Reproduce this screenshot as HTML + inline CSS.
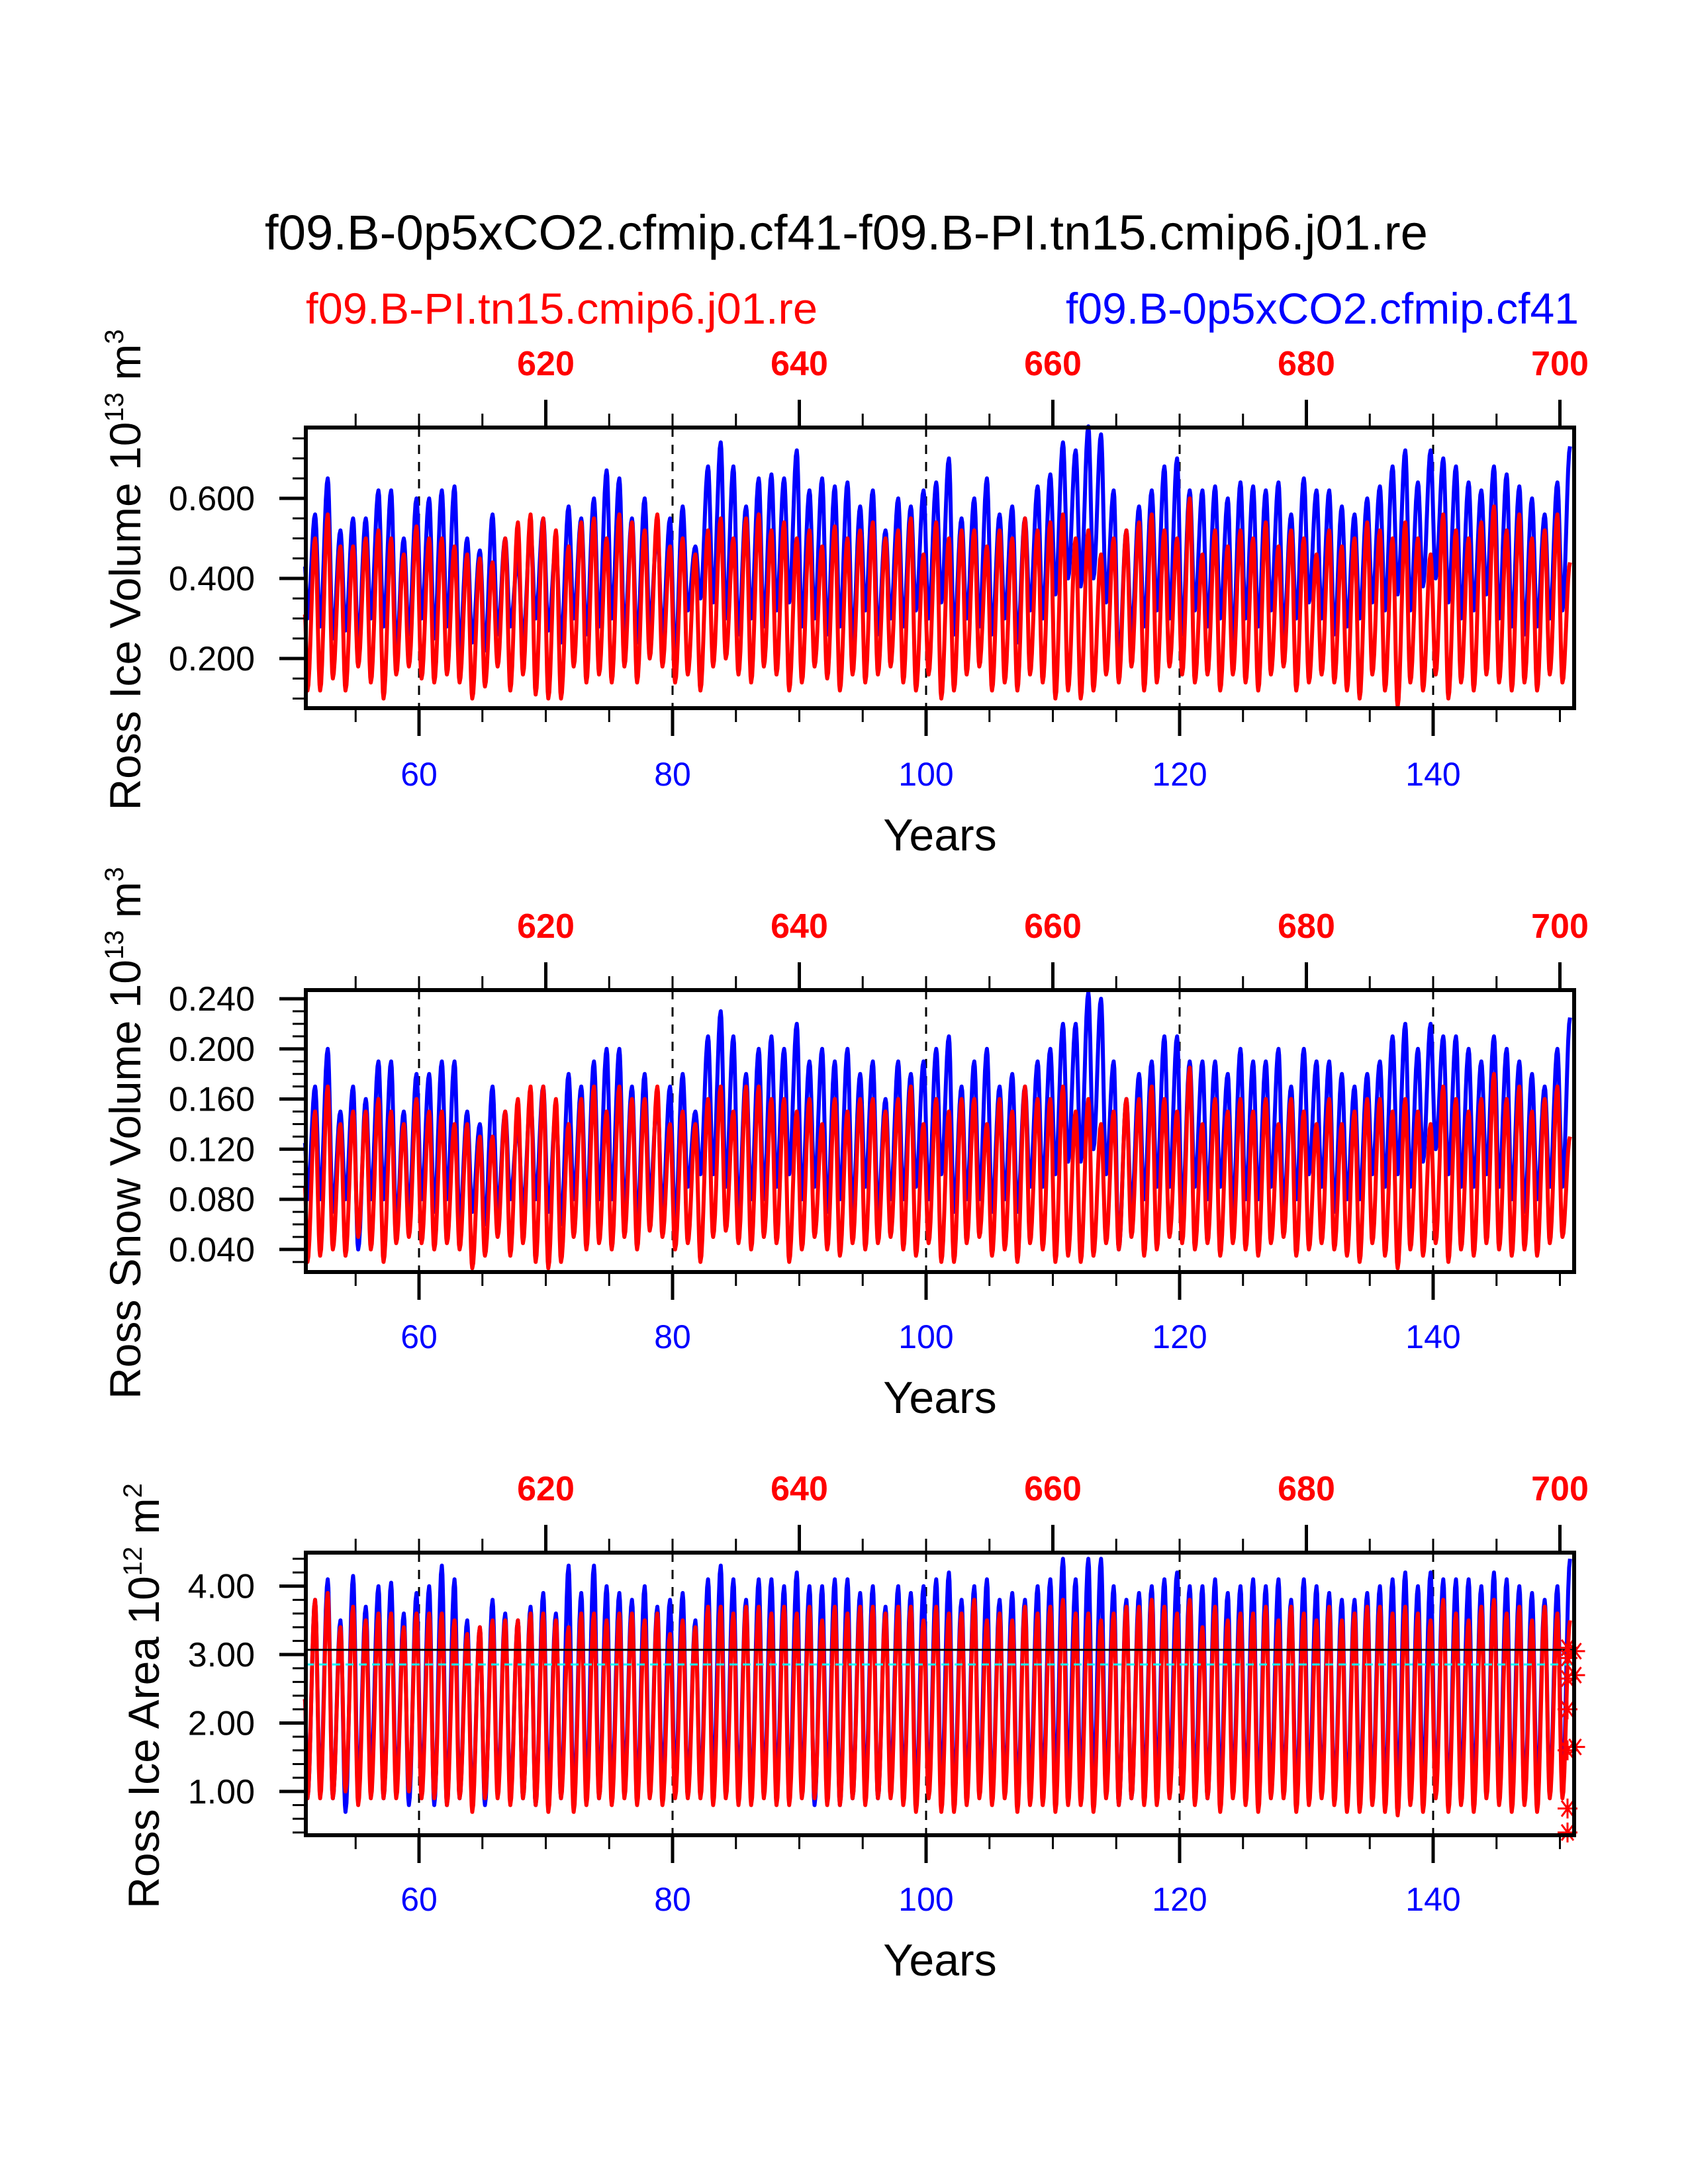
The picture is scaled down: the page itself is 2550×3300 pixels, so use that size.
<!DOCTYPE html>
<html><head><meta charset="utf-8"><style>
html,body{margin:0;padding:0;background:#fff}
svg{display:block}
text{font-family:"Liberation Sans",sans-serif}
</style></head><body>
<svg id="chart" xmlns="http://www.w3.org/2000/svg" width="2550" height="3300" viewBox="0 0 2550 3300">
<rect x="0" y="0" width="2550" height="3300" fill="#fff"/>
<text x="400" y="377" font-size="74" textLength="1757" lengthAdjust="spacingAndGlyphs">f09.B-0p5xCO2.cfmip.cf41-f09.B-PI.tn15.cmip6.j01.re</text>
<text x="462" y="489" font-size="66" fill="#ff0000" textLength="773" lengthAdjust="spacingAndGlyphs">f09.B-PI.tn15.cmip6.j01.re</text>
<text x="1610" y="489" font-size="66" fill="#0000ff" textLength="775" lengthAdjust="spacingAndGlyphs">f09.B-0p5xCO2.cfmip.cf41</text>
<g id="panels"></g>
</svg>
<script>
// x-axis years (bottom, blue run) and top axis (red run = bottom + 550)
const bottomTicks = [60, 80, 100, 120, 140];
const topTicks = [620, 640, 660, 680, 700];
const startYear = 51;
// Panel 1: Ross Ice Volume (annual max / min)
const iceVolBluePeak = [.56,.65,.52,.55,.55,.62,.62,.50,.60,.60, .62,.63,.50,.47,.56,.50,.45,.52,.55,.48, .58,.55,.60,.67,.65,.55,.60,.52,.55,.58, .48,.68,.74,.68,.58,.65,.66,.65,.72,.62, .65,.63,.64,.58,.62,.52,.60,.58,.62,.64, .70,.55,.60,.65,.56,.58,.55,.63,.66,.74, .72,.78,.76,.62,.52,.58,.62,.68,.70,.62, .62,.63,.60,.64,.63,.62,.64,.56,.65,.62, .62,.58,.56,.60,.63,.68,.72,.64,.72,.70, .68,.64,.62,.68,.66,.63,.60,.56,.64,.73];
const iceVolBlueTrough = [.30,.28,.25,.27,.24,.30,.28,.22,.26,.30, .25,.28,.22,.24,.22,.26,.28,.24,.30,.27, .24,.30,.26,.28,.30,.26,.24,.28,.26,.20, .32,.35,.34,.30,.26,.30,.28,.32,.34,.28, .30,.26,.28,.24,.32,.26,.30,.28,.32,.30, .34,.26,.30,.28,.26,.30,.24,.32,.30,.36, .40,.38,.40,.34,.18,.26,.28,.32,.30,.26, .32,.28,.30,.24,.30,.28,.32,.26,.30,.34, .30,.26,.28,.30,.34,.32,.36,.32,.38,.40, .34,.30,.32,.36,.30,.28,.26,.28,.30,.32];
const iceVolRedPeak = [.50,.56,.48,.48,.50,.52,.50,.46,.53,.50, .50,.48,.46,.45,.44,.50,.54,.56,.55,.52, .48,.54,.55,.50,.56,.54,.52,.56,.48,.50, .46,.52,.55,.50,.55,.56,.52,.54,.50,.52, .48,.53,.50,.52,.54,.50,.52,.55,.46,.54, .50,.52,.52,.48,.52,.50,.55,.52,.54,.56, .50,.52,.46,.50,.52,.54,.56,.52,.50,.60, .46,.52,.48,.52,.50,.54,.48,.52,.50,.46, .52,.48,.50,.54,.52,.50,.54,.50,.46,.56, .52,.50,.54,.58,.52,.56,.50,.52,.56,.44];
const iceVolRedTrough = [.12,.12,.15,.12,.18,.14,.10,.16,.18,.15, .14,.16,.14,.10,.13,.18,.12,.16,.11,.10, .10,.18,.14,.16,.14,.18,.14,.20,.18,.14, .16,.12,.18,.20,.16,.14,.18,.16,.12,.14, .18,.15,.12,.16,.14,.16,.18,.14,.12,.16, .10,.12,.16,.18,.12,.14,.12,.16,.14,.10, .12,.10,.12,.16,.14,.18,.12,.14,.18,.16, .14,.16,.12,.16,.14,.12,.16,.18,.12,.14, .16,.14,.12,.10,.16,.12,.08,.14,.12,.16, .10,.14,.12,.16,.14,.12,.14,.12,.16,.14];
// Panel 2: Ross Snow Volume
const snowBluePeak = [.17,.20,.15,.17,.16,.19,.19,.15,.18,.18, .19,.19,.15,.14,.17,.15,.14,.16,.17,.15, .18,.17,.19,.20,.20,.17,.18,.16,.17,.18, .15,.21,.23,.21,.18,.20,.21,.20,.22,.19, .20,.19,.20,.18,.19,.16,.19,.18,.19,.20, .21,.17,.19,.20,.17,.18,.17,.19,.20,.22, .22,.245,.24,.19,.16,.18,.19,.21,.21,.19, .19,.19,.18,.20,.19,.19,.20,.17,.20,.19, .19,.18,.17,.18,.19,.21,.22,.20,.22,.21, .21,.20,.19,.21,.20,.19,.18,.17,.20,.225];
const snowBlueTrough = [.08,.08,.07,.08,.04,.08,.08,.06,.07,.08, .07,.08,.06,.07,.06,.07,.08,.07,.08,.07, .06,.08,.07,.08,.08,.07,.06,.08,.07,.06, .09,.10,.10,.09,.07,.08,.08,.09,.10,.08, .09,.07,.08,.07,.09,.07,.08,.08,.09,.08, .10,.07,.08,.08,.07,.08,.07,.09,.09,.10, .11,.11,.12,.10,.04,.07,.08,.09,.09,.07, .09,.08,.09,.07,.08,.08,.09,.07,.08,.10, .09,.07,.08,.08,.10,.09,.10,.09,.11,.12, .10,.09,.09,.10,.09,.08,.07,.08,.09,.09];
const snowRedPeak = [.15,.17,.14,.15,.15,.16,.15,.14,.16,.15, .15,.14,.14,.13,.13,.15,.16,.17,.17,.16, .14,.16,.17,.15,.17,.16,.16,.17,.14,.15, .14,.16,.17,.15,.17,.17,.16,.16,.15,.16, .14,.16,.15,.16,.16,.15,.16,.17,.14,.16, .15,.16,.16,.14,.16,.15,.17,.16,.16,.17, .15,.16,.14,.15,.16,.16,.17,.16,.15,.185, .14,.16,.15,.16,.15,.16,.14,.16,.15,.14, .16,.14,.15,.16,.16,.15,.16,.15,.14,.17, .16,.15,.16,.18,.16,.17,.15,.16,.17,.13];
const snowRedTrough = [.03,.035,.04,.035,.05,.04,.03,.045,.05,.045, .04,.045,.04,.025,.035,.05,.035,.045,.03,.025, .03,.05,.04,.045,.04,.05,.04,.055,.05,.04, .045,.03,.05,.055,.045,.04,.05,.045,.03,.04, .05,.04,.035,.045,.04,.045,.05,.04,.035,.045, .03,.03,.045,.05,.035,.04,.03,.045,.04,.03, .035,.03,.035,.045,.04,.05,.035,.04,.05,.045, .04,.045,.035,.045,.04,.035,.045,.05,.035,.04, .045,.04,.035,.03,.045,.035,.025,.04,.035,.045, .03,.04,.035,.045,.04,.035,.04,.035,.045,.05];
// Panel 3: Ross Ice Area
const areaBluePeak = [3.8,4.1,3.5,4.15,3.7,4.0,4.05,3.6,3.9,4.0, 4.3,4.1,3.5,3.4,3.8,3.6,3.5,3.7,3.9,3.6, 4.3,3.9,4.3,4.0,3.9,3.8,4.0,3.7,3.8,3.9, 3.5,4.1,4.3,4.1,3.8,4.1,4.1,4.0,4.2,4.0, 4.0,4.1,4.1,3.9,4.0,3.7,4.0,3.9,4.0,4.1, 4.2,3.8,4.0,4.1,3.8,3.9,3.8,4.0,4.1,4.4, 4.1,4.4,4.4,4.0,3.8,3.9,4.0,4.1,4.2,4.0, 4.0,4.1,3.9,4.0,4.1,4.0,4.1,3.8,4.1,4.0, 3.9,3.8,3.8,3.9,4.0,4.1,4.2,4.0,4.2,4.1, 4.1,4.1,4.0,4.2,4.1,4.0,3.9,3.8,4.0,4.4];
const areaBlueTrough = [0.9,1.0,0.9,0.7,1.0,1.2,0.9,1.0,0.8,1.0, 0.8,0.8,0.9,0.8,0.8,1.0,0.9,0.9,0.8,1.0, 0.9,0.8,1.0,0.9,1.0,1.1,0.9,1.0,1.1,1.1, 1.0,1.0,1.1,1.0,1.0,0.9,1.0,1.0,0.9,1.0, 0.8,1.0,0.8,0.9,1.0,0.9,1.1,1.0,0.9,1.0, 1.0,0.9,1.0,1.0,0.9,1.0,0.9,1.0,1.0,1.1, 1.2,1.0,1.1,1.0,0.8,0.9,1.0,1.1,1.2,1.0, 1.0,0.9,1.0,1.0,1.0,0.9,1.0,1.0,0.9,1.0, 1.0,0.9,0.9,1.0,1.0,0.9,1.0,1.0,1.1,1.0, 0.8,1.0,1.0,1.0,0.9,1.0,0.9,1.0,1.0,1.0];
const areaRedPeak = [3.8,3.9,3.4,3.7,3.5,3.6,3.6,3.4,3.6,3.6, 3.6,3.5,3.3,3.4,3.5,3.5,3.5,3.6,3.6,3.5, 3.4,3.6,3.6,3.5,3.6,3.6,3.5,3.6,3.3,3.5, 3.4,3.7,3.7,3.6,3.7,3.7,3.6,3.7,3.6,3.7, 3.5,3.7,3.6,3.7,3.7,3.6,3.7,3.7,3.5,3.7, 3.6,3.6,3.8,3.5,3.6,3.5,3.7,3.6,3.7,3.8, 3.6,3.6,3.5,3.6,3.7,3.7,3.8,3.7,3.6,3.8, 3.4,3.7,3.5,3.6,3.6,3.7,3.5,3.7,3.6,3.5, 3.7,3.5,3.6,3.7,3.7,3.6,3.7,3.6,3.5,3.8, 3.6,3.5,3.7,3.8,3.6,3.7,3.5,3.7,3.6,3.5];
const areaRedTrough = [0.9,0.9,0.9,1.0,0.8,0.9,0.9,0.9,1.0,0.9, 0.9,0.8,0.9,0.7,0.9,0.9,0.8,0.9,0.8,0.7, 0.9,0.7,0.8,0.9,0.8,0.9,0.8,0.9,0.8,0.9, 0.9,0.9,0.8,0.9,0.8,0.8,0.9,0.8,0.8,0.9, 0.9,0.8,0.8,0.9,0.8,0.9,0.9,0.8,0.7,0.9, 0.7,0.7,0.8,0.9,0.8,0.9,0.7,0.8,0.8,0.7, 0.8,0.8,0.7,0.9,0.8,0.9,0.8,0.8,0.9,0.9, 0.8,0.9,0.7,0.9,0.8,0.7,0.9,0.9,0.7,0.8, 0.9,0.8,0.7,0.7,0.8,0.7,0.65,0.8,0.7,0.9, 0.7,0.8,0.7,0.9,0.8,0.7,0.8,0.7,0.9,0.9];
const areaMeanBlack = 3.07;
const areaMeanCyan = 2.855;
const markerX = [150.6,150.6,151.2,150.6,151.2,150.6,151.2,150.6,150.6,150.6];
const markerVal = [3.1,2.95,3.05,2.65,2.7,2.2,1.65,1.6,0.75,0.4];

const NS = 'http://www.w3.org/2000/svg';
const X0 = 633, PXY = 19.15, L = 462, R = 2378;
function sx(yr){ return X0 + (yr - 60) * PXY; }
function mk(tag, attrs, parent){ const e = document.createElementNS(NS, tag); for (const k in attrs) e.setAttribute(k, attrs[k]); parent.appendChild(e); return e; }

const panels = [
  {name:'ice-volume', top:646, bot:1070, ymin:0.076, ymax:0.777, major:[0.2,0.4,0.6], fmt:v=>v.toFixed(3), minorStep:0.05, title:['Ross Ice Volume 10','13',' m','3'], tx:190,
   series:[[iceVolBluePeak,iceVolBlueTrough,'#0000ff','blue'],[iceVolRedPeak,iceVolRedTrough,'#ff0000','red']]},
  {name:'snow-volume', top:1496, bot:1922, ymin:0.022, ymax:0.2469, major:[0.04,0.08,0.12,0.16,0.2,0.24], fmt:v=>v.toFixed(3), minorStep:0.01, title:['Ross Snow Volume 10','13',' m','3'], tx:190,
   series:[[snowBluePeak,snowBlueTrough,'#0000ff','blue'],[snowRedPeak,snowRedTrough,'#ff0000','red']]},
  {name:'ice-area', top:2346, bot:2773, ymin:0.36, ymax:4.49, major:[1,2,3,4], fmt:v=>v.toFixed(2), minorStep:0.2, title:['Ross Ice Area 10','12',' m','2'], tx:218,
   series:[[areaBluePeak,areaBlueTrough,'#0000ff','blue'],[areaRedPeak,areaRedTrough,'#ff0000','red']]}
];

const root = document.getElementById('panels');
panels.forEach((p, pi) => {
  const g = mk('g', {}, root);
  
  
  const sy = v => p.bot - (v - p.ymin) / (p.ymax - p.ymin) * (p.bot - p.top);
  const dy = p.top - 646;
  bottomTicks.forEach(t => {
    const ln = mk('line', {x1:sx(t), x2:sx(t), y1:p.top, y2:p.bot, stroke:'#000', 'stroke-width':3, 'stroke-dasharray':'14,12'}, g);
    
    
  });
  p.series.forEach(s => {
    const [pk, tr, col, nm] = s;
    const ext = [];
    for (let i = 0; i < pk.length; i++) {
      ext.push([startYear + i + 0.2, tr[i]]);
      ext.push([startYear + i + 0.8, pk[i]]);
    }
    let d = 'M' + sx(startYear) + ',' + sy((tr[0] + pk[0]) / 2);
    let prev = [startYear, (tr[0] + pk[0]) / 2];
    ext.forEach(e => {
      for (let k = 1; k <= 8; k++) {
        const f = k / 8, w = (1 - Math.cos(Math.PI * f)) / 2;
        const xx = prev[0] + (e[0] - prev[0]) * f;
        const vv = prev[1] + (e[1] - prev[1]) * w;
        d += 'L' + sx(xx).toFixed(1) + ',' + sy(vv).toFixed(1);
      }
      prev = e;
    });
    const path = mk('path', {d:d, fill:'none', stroke:col, 'stroke-width':6, 'stroke-linejoin':'round'}, g);
    
    
  });
  if (pi === 2) {
    const hb = mk('line', {x1:L, x2:R, y1:sy(areaMeanBlack), y2:sy(areaMeanBlack), stroke:'#000', 'stroke-width':3}, g);
    
    
    const hc = mk('line', {x1:L, x2:R, y1:sy(areaMeanCyan), y2:sy(areaMeanCyan), stroke:'#00ffff', 'stroke-width':3, 'stroke-dasharray':'12,8'}, g);
    
    
    markerX.forEach((mx, i) => {
      const cx = sx(mx), cy = sy(markerVal[i]), r = 15;
      let d = 'M' + (cx - r) + ',' + cy + 'L' + (cx + r) + ',' + cy;
      d += 'M' + (cx - r * 0.6) + ',' + (cy - r * 0.8) + 'L' + (cx + r * 0.6) + ',' + (cy + r * 0.8);
      d += 'M' + (cx - r * 0.6) + ',' + (cy + r * 0.8) + 'L' + (cx + r * 0.6) + ',' + (cy - r * 0.8);
      d += 'M' + cx + ',' + (cy - r) + 'L' + cx + ',' + (cy + r);
      const m = mk('path', {d:d, stroke:'#ff0000', 'stroke-width':3, fill:'none'}, g);
      
      
    });
  }
  const fr = mk('rect', {x:L, y:p.top, width:R - L, height:p.bot - p.top, fill:'none', stroke:'#000', 'stroke-width':6}, g);
  
  
  for (let yr = 55; yr <= 150; yr += 5) {
    const maj = yr % 20 === 0;
    const tb = mk('line', {x1:sx(yr), x2:sx(yr), y1:p.bot, y2:p.bot + (maj ? 42 : 21), stroke:'#000', 'stroke-width':maj ? 5 : 3}, g);
    
    
    const tmaj = (yr + 550) % 20 === 0;
    const tt = mk('line', {x1:sx(yr), x2:sx(yr), y1:p.top, y2:p.top - (tmaj ? 42 : 21), stroke:'#000', 'stroke-width':tmaj ? 5 : 3}, g);
    
    
  }
  bottomTicks.forEach(t => {
    const lb = mk('text', {x:sx(t), y:1187 + dy, 'font-size':50, fill:'#0000ff', 'text-anchor':'middle'}, g);
    lb.textContent = t;
    
    
  });
  topTicks.forEach(t => {
    const lb = mk('text', {x:sx(t - 550), y:567 + dy, 'font-size':52, 'font-weight':'bold', fill:'#ff0000', 'text-anchor':'middle'}, g);
    lb.textContent = t;
    
    
  });
  const xt = mk('text', {x:(L + R) / 2, y:1285 + dy, 'font-size':68, 'text-anchor':'middle'}, g);
  xt.textContent = 'Years';
  
  
  const n0 = Math.ceil(p.ymin / p.minorStep - 1e-6), n1 = Math.floor(p.ymax / p.minorStep + 1e-6);
  for (let n = n0; n <= n1; n++) {
    const v = n * p.minorStep;
    const maj = p.major.some(m => Math.abs(m - v) < 1e-6);
    const tk = mk('line', {x1:L, x2:L - (maj ? 40 : 20), y1:sy(v), y2:sy(v), stroke:'#000', 'stroke-width':maj ? 5 : 3}, g);
    
    
  }
  p.major.forEach(v => {
    const lb = mk('text', {x:385, y:sy(v) + 18, 'font-size':52, 'text-anchor':'end'}, g);
    lb.textContent = p.fmt(v);
    
    
  });
  const cy = (p.top + p.bot) / 2 + 3;
  const yt = mk('text', {x:0, y:0, 'font-size':66, 'text-anchor':'middle', transform:'translate(' + (p.tx + 22) + ',' + cy + ') rotate(-90)'}, g);
  
  
  const t1 = mk('tspan', {}, yt); t1.textContent = p.title[0];
  const t2 = mk('tspan', {'font-size':40, dy:-26}, yt); t2.textContent = p.title[1];
  const t3 = mk('tspan', {dy:26}, yt); t3.textContent = p.title[2];
  const t4 = mk('tspan', {'font-size':40, dy:-26}, yt); t4.textContent = p.title[3];
});
</script>
</body></html>
